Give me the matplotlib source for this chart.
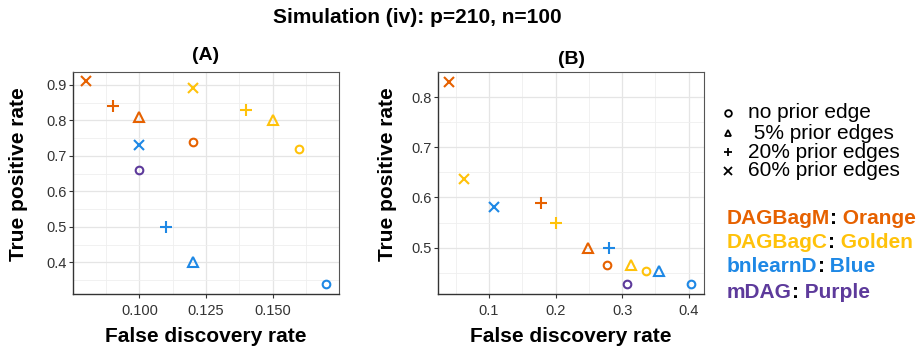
import numpy as np
import matplotlib.pyplot as plt

plt.rcParams['font.family'] = ['Liberation Sans', 'DejaVu Sans']

# methods and their colours
methods = ["DAGBagM", "DAGBagC", "bnlearnD", "mDAG"]
color_names = ["Orange", "Golden", "Blue", "Purple"]
colors = ["#E66100", "#FFC20A", "#1E88E5", "#5D3A9B"]

# prior edge settings: no prior, 5%, 20%, 60%
prior_labels = ["no prior edge", " 5% prior edges", "20% prior edges", "60% prior edges"]
markers = ["o", "^", "+", "x"]

# panel (A): FDR / TPR per method, ordered as prior_labels
fdr_A_dagbagm = [0.120, 0.100, 0.090, 0.080]
tpr_A_dagbagm = [0.740, 0.810, 0.840, 0.910]
fdr_A_dagbagc = [0.160, 0.150, 0.140, 0.120]
tpr_A_dagbagc = [0.720, 0.800, 0.830, 0.890]
fdr_A_bnlearn = [0.170, 0.120, 0.110, 0.100]
tpr_A_bnlearn = [0.340, 0.400, 0.500, 0.730]
fdr_A_mdag = [0.100]
tpr_A_mdag = [0.660]

# panel (B)
fdr_B_dagbagm = [0.277, 0.248, 0.178, 0.040]
tpr_B_dagbagm = [0.466, 0.499, 0.588, 0.830]
fdr_B_dagbagc = [0.336, 0.313, 0.200, 0.062]
tpr_B_dagbagc = [0.453, 0.465, 0.549, 0.636]
fdr_B_bnlearn = [0.403, 0.356, 0.280, 0.108]
tpr_B_bnlearn = [0.427, 0.454, 0.500, 0.580]
fdr_B_mdag = [0.308]
tpr_B_mdag = [0.428]

panels = {
    "(A)": [(fdr_A_dagbagm, tpr_A_dagbagm), (fdr_A_dagbagc, tpr_A_dagbagc),
            (fdr_A_bnlearn, tpr_A_bnlearn), (fdr_A_mdag, tpr_A_mdag)],
    "(B)": [(fdr_B_dagbagm, tpr_B_dagbagm), (fdr_B_dagbagc, tpr_B_dagbagc),
            (fdr_B_bnlearn, tpr_B_bnlearn), (fdr_B_mdag, tpr_B_mdag)],
}

msizes = {"o": 5.5, "^": 7.0, "+": 8.5, "x": 6.5}

fig = plt.figure(figsize=(9.19, 3.46), dpi=100)
axA = fig.add_axes([0.0794, 0.1503, 0.2895, 0.6416])
axB = fig.add_axes([0.4766, 0.1503, 0.2895, 0.6416])

settings = {
    "(A)": dict(ax=axA, xlim=(0.0751, 0.1749), ylim=(0.311, 0.936),
                xt=[0.100, 0.125, 0.150], xmin=[0.0875, 0.1125, 0.1375, 0.1625],
                yt=[0.4, 0.5, 0.6, 0.7, 0.8, 0.9], ymin=[0.35, 0.45, 0.55, 0.65, 0.75, 0.85],
                xfmt="{:.3f}", ylx=-0.169, tpad=8.6),
    "(B)": dict(ax=axB, xlim=(0.0235, 0.423), ylim=(0.4075, 0.85),
                xt=[0.1, 0.2, 0.3, 0.4], xmin=[0.05, 0.15, 0.25, 0.35],
                yt=[0.5, 0.6, 0.7, 0.8], ymin=[0.45, 0.55, 0.65, 0.75],
                xfmt="{:.1f}", ylx=-0.154, tpad=6.1),
}

for name, data in panels.items():
    s = settings[name]
    ax = s["ax"]
    for (xs, ys), col in zip(data, colors):
        for x, y, m in zip(xs, ys, markers):
            ax.plot(x, y, linestyle="none", marker=m, ms=msizes[m], mfc="none",
                    mec=col, mew=1.5, zorder=3)
    ax.set_xlim(*s["xlim"])
    ax.set_ylim(*s["ylim"])
    ax.set_xticks(s["xt"])
    ax.set_xticklabels([s["xfmt"].format(v) for v in s["xt"]])
    ax.set_yticks(s["yt"])
    ax.set_yticklabels(["{:.1f}".format(v) for v in s["yt"]])
    ax.set_xticks(s["xmin"], minor=True)
    ax.set_yticks(s["ymin"], minor=True)
    ax.grid(True, which="major", color="#E5E5E5", lw=0.9, zorder=0)
    ax.grid(True, which="minor", color="#EFEFEF", lw=0.6, zorder=0)
    ax.set_axisbelow(True)
    ax.tick_params(which="major", length=3, width=0.8, color="#333333",
                   labelsize=10.5, labelcolor="#333333", pad=1.5)
    ax.tick_params(which="minor", length=0)
    ax.tick_params(axis="x", pad=4)
    for sp in ["left", "bottom"]:
        ax.spines[sp].set_color("#333333")
        ax.spines[sp].set_linewidth(1.0)
    for sp in ["top", "right"]:
        ax.spines[sp].set_color("#555555")
        ax.spines[sp].set_linewidth(0.8)
    ax.set_xlabel("False discovery rate", fontsize=15, fontweight="bold")
    ax.set_ylabel("True positive rate", fontsize=15, fontweight="bold")
    ax.xaxis.set_label_coords(0.5, -0.15)
    ax.yaxis.set_label_coords(s["ylx"], 0.54)
    ax.set_title(name, fontsize=14, fontweight="bold", pad=s["tpad"])

fig.text(0.4537, 0.948, "Simulation (iv): p=210, n=100", ha="center", va="center",
         fontsize=15, fontweight="bold")

# shape legend
row_y = [113, 133, 152, 171]
for lab, m, yy in zip(prior_labels, markers, row_y):
    fy = 1 - yy / 346
    fig.add_artist(plt.Line2D([728 / 919], [fy], transform=fig.transFigure,
                              marker=m, ms=4.8 if m in "o^" else 5.3, mfc="none",
                              mec="black", mew=1.3, linestyle="none"))
    fig.text(748 / 919, fy, lab, ha="left", va="center", fontsize=15)

# colour legend: coloured name, black colon, coloured colour name
col_y = [218, 242, 267, 292]
for meth, cname, col, yy in zip(methods, color_names, colors, col_y):
    t1 = fig.text(727 / 919, 1 - yy / 346, meth, ha="left", va="center",
                  fontsize=15, fontweight="bold", color=col)
    t2 = axA.annotate(":", xy=(1, 0), xycoords=t1, ha="left", va="bottom",
                      fontsize=15, fontweight="bold", color="black",
                      annotation_clip=False)
    axA.annotate(" " + cname, xy=(1, 0), xycoords=t2, ha="left", va="bottom",
                 fontsize=15, fontweight="bold", color=col,
                 annotation_clip=False)

fig.savefig("out.png", dpi=100)
